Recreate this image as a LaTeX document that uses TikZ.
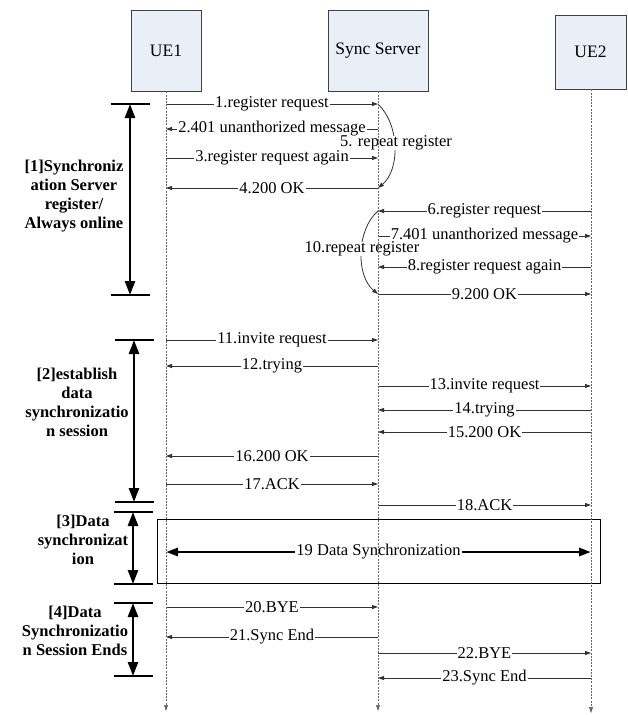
\documentclass[tikz,border=0pt]{standalone}
\usepackage{fontspec}
\setmainfont{Liberation Serif}
\usetikzlibrary{arrows.meta}
\definecolor{boxfill}{HTML}{E9EEF7}
\newcommand\msgrow[5]{%
  \coordinate (#1a) at (#2,#4);
  \coordinate (#1b) at (#3,#4);
  \draw[msgline] (#1a) -- (#1b) node[lbl,pos=0.5] (#1l) {#5};}
\begin{document}
\begin{tikzpicture}[x=1pt,y=-1pt,
  actor/.style={draw=black!75, fill=boxfill, line width=0.8pt, inner sep=0pt,
    font=\fontsize{17.5}{20}\selectfont},
  msgline/.style={draw=black!80, line width=0.8pt, -{Triangle[length=6pt,width=4pt]}},
  lbl/.style={fill=white, inner xsep=1pt, inner ysep=0.5pt, text=black,
    font=\fontsize{16.5}{19}\selectfont},
  life/.style={draw=black!60, line width=0.7pt, dash pattern=on 2pt off 1.2pt,
    -{Triangle[length=6pt,width=4pt]}},
  bar/.style={line width=2.8pt, black},
  brk/.style={line width=2.6pt, black, {Triangle[length=14pt,width=10pt]}-{Triangle[length=14pt,width=10pt]}},
  phase/.style={align=center, font=\fontsize{16.5}{19}\selectfont\bfseries},
  bigarrow/.style={line width=2.8pt, black, {Triangle[length=12pt,width=8pt]}-{Triangle[length=12pt,width=8pt]}}
]
\useasboundingbox (0,0) rectangle (628,715);

% actors
\node[actor, minimum width=70pt, minimum height=81pt] (ue1) at (166,50.5) {UE1};
\node[actor, minimum width=100pt, minimum height=81pt] (srv) at (378,50.5) {Sync Server};
\node[actor, minimum width=71pt, minimum height=74pt] (ue2) at (590.5,52) {UE2};

% data sync box
\node[draw=black, line width=0.8pt, minimum width=443pt, minimum height=64pt, inner sep=0pt] (dbox) at (378.5,551) {};

% phase 1 messages
\msgrow{m1}{166}{378}{104}{1.register request}
\msgrow{m2}{378}{166}{129}{2.401 unanthorized message}
\msgrow{m3}{166}{378}{158}{3.register request again}
\msgrow{m4}{378}{166}{188}{4.200 OK}
\draw[msgline] (m1b) .. controls (400,125) and (400,170) .. (m4a);
\node[lbl, inner ysep=0pt] (l5) at (396,143) {5. repeat register};

\msgrow{m6}{591}{378}{211}{6.register request}
\msgrow{m7}{378}{591}{236}{7.401 unanthorized message}
\msgrow{m8}{591}{378}{267}{8.register request again}
\msgrow{m9}{378}{591}{294}{9.200 OK}
\draw[msgline] (m6b) .. controls (356,230) and (356,276) .. (m9a);
\node[lbl, inner ysep=0pt] (l10) at (362,249) {10.repeat register};

% phase 2 messages
\msgrow{m11}{166}{378}{340}{11.invite request}
\msgrow{m12}{378}{166}{366}{12.trying}
\msgrow{m13}{378}{591}{386}{13.invite request}
\msgrow{m14}{591}{378}{410}{14.trying}
\msgrow{m15}{591}{378}{432}{15.200 OK}
\msgrow{m16}{378}{166}{456}{16.200 OK}
\msgrow{m17}{166}{378}{484}{17.ACK}
\msgrow{m18}{378}{591}{505}{18.ACK}

% phase 3
\coordinate (d1) at (166,552);
\coordinate (d2) at (591,552);
\draw[bigarrow] (d1) -- (d2) node[lbl, pos=0.5] (l19) {19 Data Synchronization};

% phase 4
\msgrow{m20}{166}{378}{607}{20.BYE}
\msgrow{m21}{378}{166}{637}{21.Sync End}
\msgrow{m22}{378}{591}{653}{22.BYE}
\msgrow{m23}{591}{378}{678}{23.Sync End}

% lifelines
\coordinate (ue1end) at (166,711);
\coordinate (srvend) at (378,711);
\coordinate (ue2end) at (591,713);
\draw[life] (ue1) -- (ue1end);
\draw[life] (srv) -- (srvend);
\draw[life] (ue2.south -| ue2end) -- (ue2end);

% brackets
\coordinate (b1t) at (130,104); \coordinate (b1b) at (130,295);
\coordinate (b2t) at (134,340); \coordinate (b2b) at (134,502);
\coordinate (b3t) at (133,512); \coordinate (b3b) at (133,584);
\coordinate (b4t) at (133,603); \coordinate (b4b) at (133,676);
\foreach \b in {b1t,b1b,b2t,b2b,b3t,b3b,b4t,b4b}{
  \draw[bar] ([xshift=-19.5pt]\b) -- ([xshift=19.5pt]\b);
}
\draw[brk] (b1t) -- (b1b);
\draw[brk] (b2t) -- (b2b);
\draw[brk] (b3t) -- (b3b);
\draw[brk] (b4t) -- (b4b);

\node[phase] (p1) at (74,196) {[1]Synchroniz\\ation Server\\register/\\Always online};
\node[phase] (p2) at (77,402) {[2]establish\\data\\synchronizatio\\n session};
\node[phase] (p3) at (83,540) {[3]Data\\synchronizat\\ion};
\node[phase] (p4) at (75,631) {[4]Data\\Synchronizatio\\n Session Ends};
\end{tikzpicture}
\end{document}
